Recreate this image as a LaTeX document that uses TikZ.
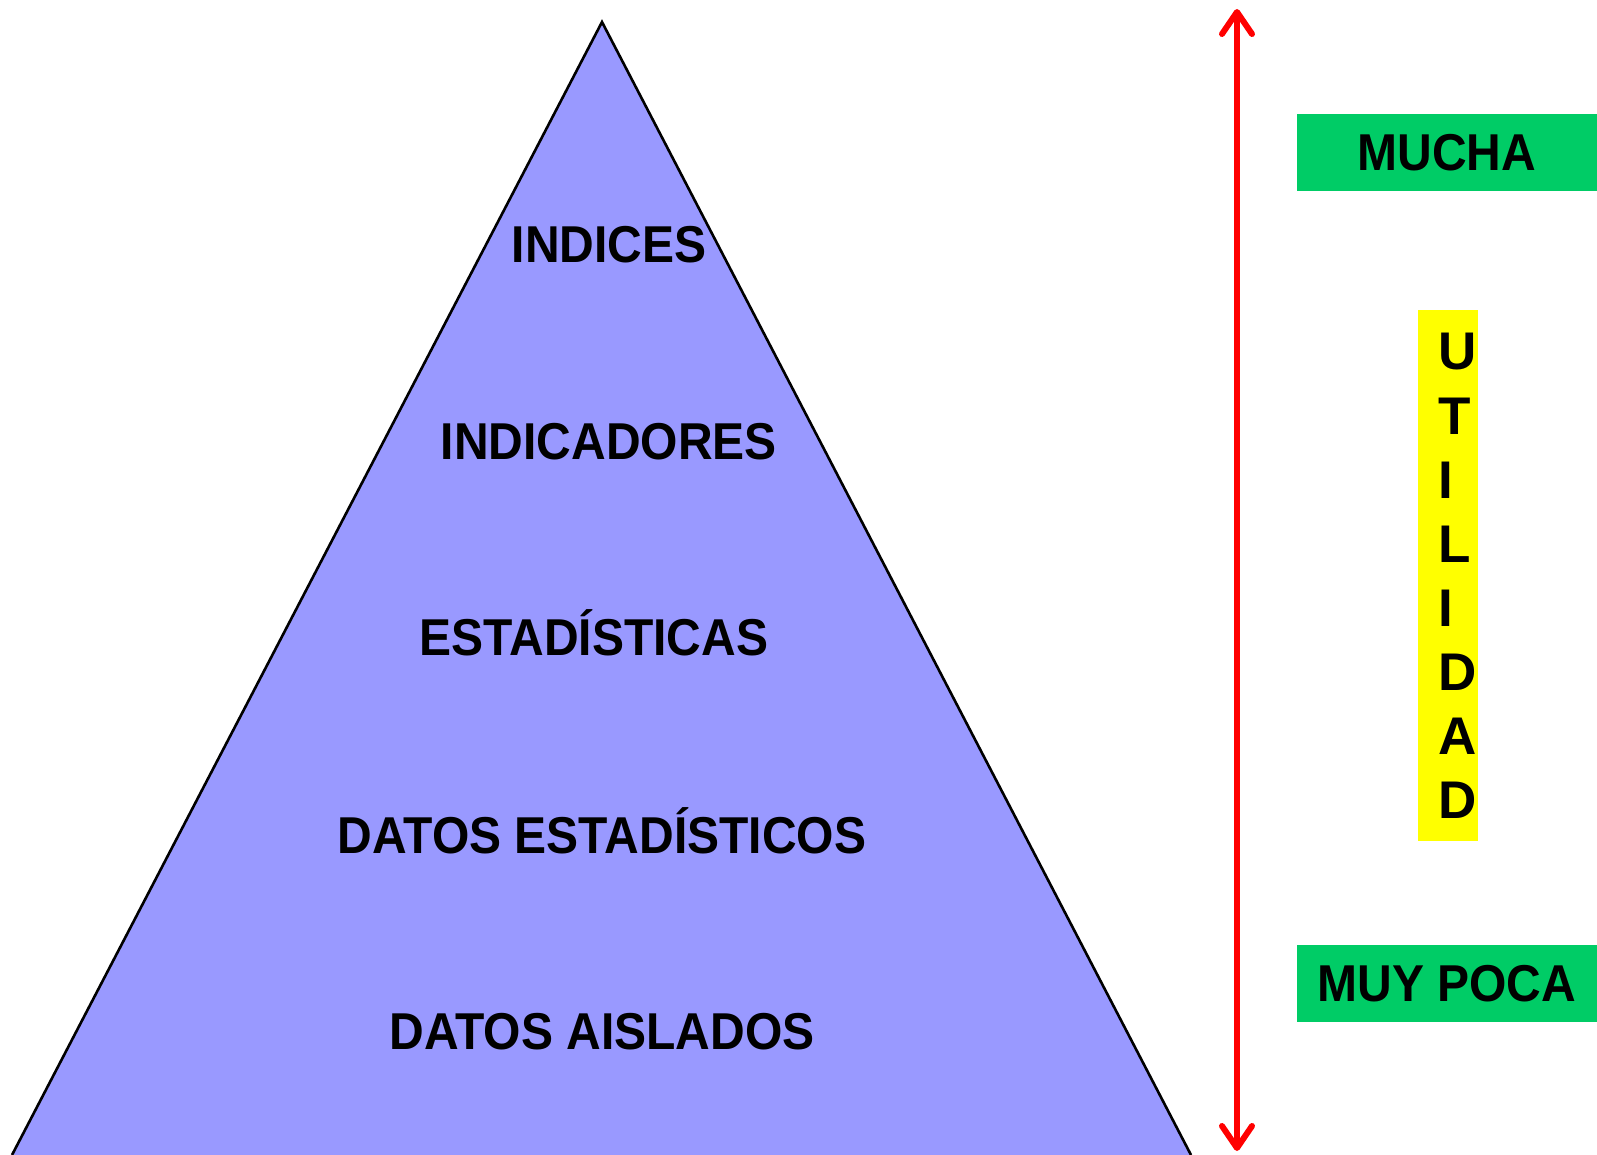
\documentclass[tikz,border=0pt]{standalone}
\usepackage{fontspec}
\setmainfont{Liberation Sans}
\usetikzlibrary{arrows.meta}
\definecolor{pyramidblue}{HTML}{9999FF}
\definecolor{boxgreen}{HTML}{00CC66}
\definecolor{utilyellow}{HTML}{FFFF00}
\newcommand{\letterstep}{64}

\begin{document}
\begin{tikzpicture}[x=0.5pt, y=-0.5pt,
    tier/.style={font=\bfseries\fontsize{24}{29}\selectfont, anchor=base, inner sep=0pt, yscale=1.08},
    rangebox/.style={fill=boxgreen, minimum width=150pt, minimum height=35.65pt, yscale=1.08,
        inner sep=0pt, font=\bfseries\fontsize{24}{29}\selectfont},
    utilletter/.style={font=\bfseries\fontsize{26.5}{30}\selectfont, anchor=west, inner sep=0pt}]
    \useasboundingbox (0,0) rectangle (1597,1155);

    \coordinate (apex) at (602,22);
    \coordinate (left) at (12,1155);
    \coordinate (right) at (1191,1155);
    \fill[pyramidblue] (left) -- (apex) -- (right) -- cycle;
    \draw[line width=1.3pt] (left) -- (apex) -- (right);

    \node[tier] (indices) at (609,263) {INDICES};
    \node[tier] (indicadores) at (609,459) {INDICADORES};
    \node[tier] (estadisticas) at (594,655) {ESTADÍSTICAS};
    \node[tier] (datosest) at (602,853) {DATOS ESTADÍSTICOS};
    \node[tier] (aislados) at (602,1049) {DATOS AISLADOS};

    % utility scale
    \coordinate (top) at (1237,9);
    \coordinate (bottom) at (1237,1151);
    \draw[red, line width=3pt,
        {Straight Barb[round, length=11pt, width=15pt]}-{Straight Barb[round, length=11pt, width=15pt]}]
        (top) -- (bottom);

    \node[rangebox] (mucha) at (1447,152.5) {MUCHA};
    \node[rangebox] (muypoca) at (1447,983.5) {MUY POCA};

    \node[fill=utilyellow, minimum width=30pt, minimum height=265.5pt, inner sep=0pt]
        (utilidad) at (1448,575.5) {};
    \foreach \ch [count=\i from 0] in {U,T,I,L,I,D,A,D}
        \node[utilletter] (util-\i) at (1438,{352+\letterstep*\i}) {\ch};
\end{tikzpicture}
\end{document}
